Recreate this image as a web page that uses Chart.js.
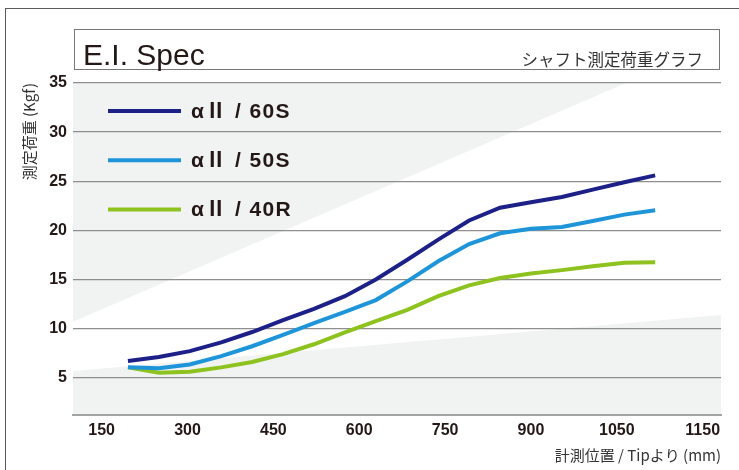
<!DOCTYPE html>
<html lang="ja">
<head>
<meta charset="UTF-8">
<title>E.I. Spec</title>
<script src="https://cdn.jsdelivr.net/npm/chart.js@4.4.1/dist/chart.umd.min.js"></script>
<style>
    html, body { margin: 0; padding: 0; background: #fff; }
    #page { position: relative; width: 739px; height: 470px; overflow: hidden; }
    #frame {
        position: absolute; left: 5px; top: 8px; right: -10px; bottom: -10px;
        border-left: 1.5px solid #5a5a5a; border-top: 1.5px solid #5a5a5a;
    }
    #title-box {
        position: absolute; left: 74px; top: 29px; width: 644px; height: 39px;
        border: 1px solid #777; background: #fff; z-index: 2;
    }
    #title-main {
        position: absolute; left: 8px; top: 8px; line-height: 1;
        font: 30px "Liberation Sans", Arial, sans-serif; color: #231815; white-space: nowrap;
    }
    #title-sub {
        position: absolute; right: 16px; top: 17px; line-height: 1;
        font: 16.5px "Noto Sans CJK JP", sans-serif; color: #333; white-space: nowrap;
    }
    #chart { position: absolute; left: 0; top: 0; }
</style>
</head>
<body>
<div id="page">
    <div id="frame"></div>
    <canvas id="chart" width="739" height="470"></canvas>
    <div id="title-box">
        <span id="title-main">E.I. Spec</span>
        <span id="title-sub">シャフト測定荷重グラフ</span>
    </div>
</div>
<script>
// 計測位置 (Tipより, mm) — 目盛りラベル基準で読み取り
const positions = [196, 250, 304, 359, 413, 467, 521, 575, 629, 684, 738, 792, 846, 900, 954, 1008, 1063, 1117];

// 測定荷重 (Kgf)
const load60S = [6.7, 7.1, 7.7, 8.6, 9.65, 10.85, 12.0, 13.3, 15.0, 17.0, 19.05, 21.0, 22.3, 22.85, 23.4, 24.15, 24.9, 25.6];
const load50S = [6.05, 5.95, 6.35, 7.2, 8.2, 9.35, 10.55, 11.7, 12.9, 14.8, 16.85, 18.6, 19.7, 20.15, 20.35, 20.95, 21.6, 22.05];
const load40R = [6.05, 5.5, 5.6, 6.05, 6.6, 7.4, 8.4, 9.6, 10.75, 11.9, 13.3, 14.4, 15.15, 15.6, 15.95, 16.35, 16.7, 16.75];

const seriesLabels = ['αⅡ / 60S', 'αⅡ / 50S', 'αⅡ / 40R'];

// 目盛り
const xTickValues = [150, 300, 450, 600, 750, 900, 1050, 1200];
const xTickLabels = ['150', '300', '450', '600', '750', '900', '1050', '1150'];
const yTickValues = [5, 10, 15, 20, 25, 30, 35];

// 背景の白い帯 (データ座標)
const bandUpper = [[100, 10.69], [1066, 35]];
const bandLower = [[100, 5.68], [1232, 11.37]];

class EiSpecChart {
    constructor() {
        this.canvas = document.getElementById('chart');
        this.chart = null;
    }

    /**
     * 背景 (グレー + 白帯)
     */
    backgroundPlugin() {
        return {
            id: 'bgBand',
            beforeDraw(chart) {
                const { ctx, chartArea: a, scales: { x, y } } = chart;
                ctx.save();
                ctx.fillStyle = '#f1f2f2';
                ctx.fillRect(a.left, a.top, a.right - a.left, a.bottom - a.top);

                const px = p => [x.getPixelForValue(p[0]), y.getPixelForValue(p[1])];
                const u0 = px(bandUpper[0]), u1 = px(bandUpper[1]);
                const l0 = px(bandLower[0]), l1 = px(bandLower[1]);

                ctx.beginPath();
                ctx.rect(a.left, a.top, a.right - a.left, a.bottom - a.top);
                ctx.clip();
                ctx.beginPath();
                ctx.moveTo(u0[0], u0[1]);
                ctx.lineTo(u1[0], u1[1]);
                ctx.lineTo(a.right, a.top);
                ctx.lineTo(l1[0], l1[1]);
                ctx.lineTo(l0[0], l0[1]);
                ctx.closePath();
                ctx.fillStyle = '#ffffff';
                ctx.fill();
                ctx.restore();
            }
        };
    }

    /**
     * グラフ内の凡例
     */
    legendPlugin() {
        return {
            id: 'innerLegend',
            afterDatasetsDraw(chart) {
                const { ctx, chartArea: a } = chart;
                ctx.save();
                chart.data.datasets.forEach((ds, i) => {
                    const y = a.top + 28 + i * 49.2;
                    ctx.strokeStyle = ds.borderColor;
                    ctx.lineWidth = 4;
                    ctx.beginPath();
                    ctx.moveTo(a.left + 35, y);
                    ctx.lineTo(a.left + 108, y);
                    ctx.stroke();

                    ctx.fillStyle = '#231815';
                    ctx.font = 'bold 21px "Liberation Sans", "Noto Sans CJK JP", sans-serif';
                    ctx.letterSpacing = '1.4px';
                    ctx.textBaseline = 'middle';
                    ctx.textAlign = 'left';
                    ctx.fillText(ds.label, a.left + 118, y + 1);
                });
                ctx.restore();
            }
        };
    }

    initialize() {
        const tickFont = { family: '"Liberation Sans", Arial, sans-serif', size: 16, weight: 'bold' };
        const titleFont = { family: '"Noto Sans CJK JP", sans-serif', size: 15 };

        this.chart = new Chart(this.canvas.getContext('2d'), {
            type: 'line',
            data: {
                datasets: [
                    { label: seriesLabels[0], data: positions.map((p, i) => ({ x: p, y: load60S[i] })), borderColor: '#1d2087' },
                    { label: seriesLabels[1], data: positions.map((p, i) => ({ x: p, y: load50S[i] })), borderColor: '#1e95d9' },
                    { label: seriesLabels[2], data: positions.map((p, i) => ({ x: p, y: load40R[i] })), borderColor: '#8dc21f' }
                ].map(ds => Object.assign(ds, {
                    borderWidth: 4,
                    pointRadius: 0,
                    tension: 0,
                    fill: false,
                    borderJoinStyle: 'miter'
                }))
            },
            options: {
                responsive: false,
                animation: false,
                devicePixelRatio: 1,
                layout: { padding: { top: 83, right: 18, bottom: 0, left: 0 } },
                plugins: {
                    legend: { display: false },
                    tooltip: { enabled: false }
                },
                scales: {
                    x: {
                        type: 'linear',
                        min: 100,
                        max: 1232,
                        afterBuildTicks: scale => {
                            scale.ticks = xTickValues.map(v => ({ value: v }));
                        },
                        afterFit: scale => { scale.height = 55; },
                        grid: { display: false, drawTicks: false },
                        border: { display: true, color: '#a3a3a3', width: 2 },
                        ticks: {
                            padding: 6,
                            color: '#231815',
                            font: tickFont,
                            maxRotation: 0,
                            callback: value => xTickLabels[xTickValues.indexOf(value)]
                        },
                        title: {
                            display: true,
                            text: '計測位置 / Tipより (mm)',
                            align: 'end',
                            color: '#333',
                            font: titleFont,
                            padding: { top: 0, bottom: 6 }
                        }
                    },
                    y: {
                        min: 1.2,
                        max: 35,
                        afterBuildTicks: scale => {
                            scale.ticks = yTickValues.map(v => ({ value: v }));
                        },
                        afterFit: scale => { scale.width = 73; },
                        grid: { color: '#8e8e8e', lineWidth: 1.3, drawTicks: false },
                        border: { display: false },
                        ticks: {
                            padding: 6,
                            color: '#231815',
                            font: tickFont
                        },
                        title: {
                            display: true,
                            text: '測定荷重 (Kgf)',
                            align: 'end',
                            color: '#333',
                            font: titleFont,
                            padding: { top: 20, bottom: 0 }
                        }
                    }
                }
            },
            plugins: [this.backgroundPlugin(), this.legendPlugin()]
        });
    }
}

const eiSpecChart = new EiSpecChart();
eiSpecChart.initialize();
</script>
</body>
</html>
